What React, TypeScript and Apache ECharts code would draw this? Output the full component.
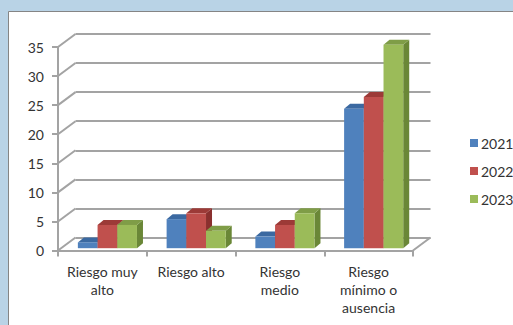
import React, { useEffect, useRef } from "react";
import * as echarts from "echarts";

// Risk level categories and yearly counts
const categories = ["Riesgo muy\nalto", "Riesgo alto", "Riesgo\nmedio", "Riesgo\nmínimo o\nausencia"];
const years = ["2021", "2022", "2023"];
const values2021 = [1, 5, 2, 24];
const values2022 = [4, 6, 4, 26];
const values2023 = [4, 3, 6, 35];
const yTicks = [0, 5, 10, 15, 20, 25, 30, 35];

// Face shades per year: front, top, side
const shades = [
  { front: "#4f81bd", top: "#3b69a1", side: "#345a88" },
  { front: "#c0504d", top: "#9c3a37", side: "#8a302e" },
  { front: "#9bbb59", top: "#7f9d47", side: "#6a8737" },
];

const FONT = "Lato";
const GRID_COLOR = "#a3a3a3";
// Depth offset of the back wall relative to the front plane
const DEPTH_X = 17.5;
const DEPTH_Y = -13;
// Bar placement inside the depth and its own thickness
const BAR_SHIFT_X = 3;
const BAR_SHIFT_Y = -2.3;
const BAR_DEPTH_X = 6;
const BAR_DEPTH_Y = -5;

const FRONT = { left: 58, top: 47, width: 355, height: 203.5 };

export default function App() {
  const ref = useRef<HTMLDivElement>(null);

  useEffect(() => {
    if (!ref.current) return;
    const chart = echarts.init(ref.current, undefined, { renderer: "svg" });
    const seriesValues = [values2021, values2022, values2023];

    const barSeries = years.map((year, si) => ({
      name: year,
      type: "custom" as const,
      xAxisIndex: 0,
      yAxisIndex: 0,
      z: 5 + si,
      itemStyle: { color: shades[si].front },
      data: seriesValues[si].map((v, ci) => [ci, v]),
      renderItem: (params: any, api: any) => {
        const ci = api.value(0);
        const v = api.value(1);
        const base = api.coord([ci, 0]);
        const top = api.coord([ci, v]);
        const band = api.size([1, 0])[0];
        const w = band * 0.222;
        const x0 = base[0] - band / 2 + band * 0.19 + si * w + BAR_SHIFT_X;
        const yb = base[1] + BAR_SHIFT_Y;
        const yt = top[1] + BAR_SHIFT_Y;
        const s = shades[si];
        return {
          type: "group",
          children: [
            {
              type: "polygon",
              shape: {
                points: [
                  [x0 + w, yb],
                  [x0 + w, yt],
                  [x0 + w + BAR_DEPTH_X, yt + BAR_DEPTH_Y],
                  [x0 + w + BAR_DEPTH_X, yb + BAR_DEPTH_Y],
                ],
              },
              style: { fill: s.side },
            },
            {
              type: "polygon",
              shape: {
                points: [
                  [x0, yt],
                  [x0 + w, yt],
                  [x0 + w + BAR_DEPTH_X, yt + BAR_DEPTH_Y],
                  [x0 + BAR_DEPTH_X, yt + BAR_DEPTH_Y],
                ],
              },
              style: { fill: s.top },
            },
            {
              type: "rect",
              shape: { x: x0, y: yt, width: w, height: yb - yt },
              style: { fill: s.front },
            },
          ],
        };
      },
    }));

    // Diagonal connectors from the front axis ticks to the back wall, plus the floor's right edge
    const connectorSeries = {
      type: "custom" as const,
      xAxisIndex: 0,
      yAxisIndex: 0,
      silent: true,
      z: 1,
      data: yTicks.map((t) => [0, t]),
      renderItem: (params: any, api: any) => {
        const t = api.value(1);
        const cs = params.coordSys;
        const y = api.coord([0, t])[1];
        const children: any[] = [
          {
            type: "line",
            shape: { x1: cs.x, y1: y, x2: cs.x + DEPTH_X, y2: y + DEPTH_Y },
            style: { stroke: GRID_COLOR, lineWidth: 2 },
          },
        ];
        if (t === 0) {
          children.push({
            type: "line",
            shape: { x1: cs.x + cs.width, y1: y, x2: cs.x + cs.width + DEPTH_X, y2: y + DEPTH_Y },
            style: { stroke: GRID_COLOR, lineWidth: 2 },
          });
        }
        return { type: "group", children };
      },
    };

    chart.setOption({
      animation: false,
      backgroundColor: "#b9d3e6",
      textStyle: { fontFamily: FONT },
      graphic: [
        {
          type: "rect",
          z: -10,
          shape: { x: 8.5, y: 11.5, width: 520, height: 330 },
          style: { fill: "#ffffff", stroke: "#858585", lineWidth: 1 },
        },
      ],
      legend: {
        orient: "vertical",
        left: 465,
        top: 131,
        icon: "rect",
        itemWidth: 8,
        itemHeight: 8,
        itemGap: 14,
        textStyle: { fontFamily: FONT, fontSize: 14, color: "#333333", lineHeight: 14, padding: [0, 0, 0, -2] },
        data: years,
      },
      grid: [
        { ...FRONT, containLabel: false },
        {
          left: FRONT.left + DEPTH_X,
          top: FRONT.top + DEPTH_Y,
          width: FRONT.width,
          height: FRONT.height,
          containLabel: false,
        },
      ],
      xAxis: [
        {
          type: "category",
          gridIndex: 0,
          data: categories,
          boundaryGap: true,
          axisLine: { show: true, lineStyle: { color: GRID_COLOR, width: 2 } },
          axisTick: { show: true, length: 6, lineStyle: { color: GRID_COLOR, width: 2 } },
          axisLabel: {
            margin: 12,
            fontFamily: FONT,
            fontSize: 14,
            lineHeight: 18,
            color: "#333333",
            interval: 0,
          },
          splitLine: { show: false },
        },
        {
          type: "category",
          gridIndex: 1,
          data: categories,
          show: false,
        },
      ],
      yAxis: [
        {
          type: "value",
          gridIndex: 0,
          min: 0,
          max: 35,
          interval: 5,
          axisLine: { show: true, lineStyle: { color: GRID_COLOR, width: 2 } },
          axisTick: { show: true, length: 6, lineStyle: { color: GRID_COLOR, width: 2 } },
          axisLabel: { margin: 14, fontFamily: FONT, fontSize: 14, color: "#333333" },
          splitLine: { show: false },
        },
        {
          type: "value",
          gridIndex: 1,
          min: 0,
          max: 35,
          interval: 5,
          axisLine: { show: false },
          axisTick: { show: false },
          axisLabel: { show: false },
          splitLine: { show: true, lineStyle: { color: GRID_COLOR, width: 2 } },
        },
      ],
      series: [connectorSeries, ...barSeries],
    });

    return () => chart.dispose();
  }, []);

  return (
    <div
      ref={ref}
      style={{ position: "fixed", left: 0, top: 0, width: 513, height: 325 }}
    />
  );
}
